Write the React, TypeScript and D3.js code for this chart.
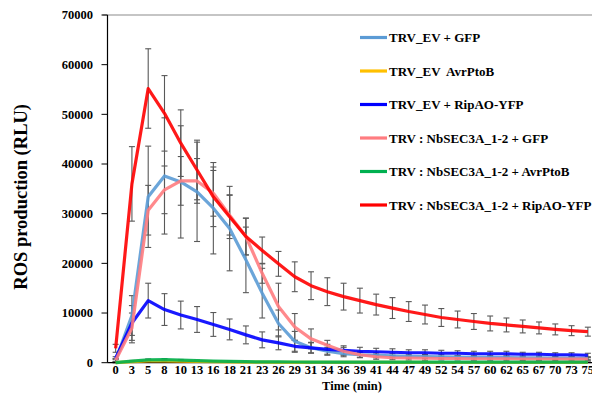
import React from "react";
import * as d3 from "d3";

// time points (min) on the category axis
const times = [0, 3, 5, 8, 10, 13, 16, 18, 21, 23, 26, 29, 31, 34, 36, 39, 41, 44, 47, 49, 52, 54, 57, 60, 62, 65, 67, 70, 73, 75];

const evGfp = [500, 9500, 33400, 37600, 36400, 34400, 31100, 27000, 20700, 14000, 7900, 4300, 3000, 2300, 1800, 1600, 1500, 1400, 1300, 1250, 1200, 1150, 1100, 1100, 1050, 1000, 1000, 950, 950, 900];
const evGfpErr = [300, 4000, 10200, 11700, 11300, 10000, 9200, 8500, 6600, 5000, 2700, 2000, 1000, 800, 600, 500, 500, 400, 400, 400, 400, 300, 300, 300, 300, 300, 300, 300, 300, 300];

const evAvr = [0, 200, 350, 350, 300, 250, 200, 150, 120, 100, 80, 80, 70, 60, 60, 50, 50, 50, 50, 50, 40, 40, 40, 40, 40, 40, 40, 40, 40, 40];
const evAvrErr = [50, 100, 150, 150, 120, 100, 100, 80, 60, 50, 40, 40, 40, 30, 30, 30, 30, 30, 30, 30, 20, 20, 20, 20, 20, 20, 20, 20, 20, 20];

const evRip = [900, 8000, 12500, 10700, 9600, 8700, 7700, 6700, 5600, 4600, 4000, 3300, 3000, 2700, 2500, 2300, 2200, 2100, 2000, 2000, 1900, 1900, 1800, 1800, 1800, 1700, 1700, 1600, 1600, 1500];
const evRipErr = [300, 3500, 3500, 3200, 2800, 2600, 2400, 2100, 1800, 1600, 1400, 1200, 1100, 1000, 900, 800, 700, 700, 600, 600, 600, 500, 500, 500, 500, 400, 400, 400, 400, 400];

const secGfp = [500, 7000, 30700, 34800, 36600, 36600, 34100, 29700, 25400, 18000, 11300, 7200, 4800, 3500, 2300, 1600, 1200, 1000, 950, 900, 850, 850, 800, 800, 800, 750, 750, 750, 700, 700];
const secGfpErr = [300, 3000, 5000, 4800, 4900, 4500, 4600, 4000, 3700, 2000, 4700, 2700, 2000, 1000, 800, 600, 500, 400, 400, 400, 300, 300, 300, 300, 300, 300, 300, 300, 300, 300];

const secAvr = [0, 300, 550, 600, 500, 400, 320, 260, 200, 160, 150, 140, 130, 120, 110, 100, 100, 100, 100, 100, 100, 100, 100, 100, 100, 100, 100, 100, 100, 100];
const secAvrErr = [50, 150, 200, 200, 150, 120, 100, 80, 60, 50, 50, 40, 40, 40, 30, 30, 30, 30, 30, 30, 30, 30, 30, 30, 30, 30, 30, 30, 30, 30];

const secRip = [2900, 36000, 55200, 50200, 44200, 38800, 33400, 29400, 25400, 22600, 19900, 17300, 15500, 14300, 13300, 12500, 11700, 11000, 10300, 9700, 9100, 8700, 8300, 7900, 7600, 7300, 7000, 6700, 6450, 6250];
const secRipErr = [800, 7500, 8000, 7600, 6700, 6000, 6000, 4400, 3700, 2700, 2500, 3000, 2800, 2800, 2700, 2500, 2100, 2100, 2000, 1900, 1800, 1700, 1600, 1500, 1400, 1300, 1200, 1100, 1000, 900];

const seriesNames = [
  "TRV_EV + GFP",
  "TRV_EV  AvrPtoB",
  "TRV_EV + RipAO-YFP",
  "TRV : NbSEC3A_1-2 + GFP",
  "TRV : NbSEC3A_1-2 + AvrPtoB",
  "TRV : NbSEC3A_1-2 + RipAO-YFP",
];
const seriesColors = ["#5b9bd5", "#ffc000", "#0000ff", "#ff7c80", "#00b050", "#ff0000"];
const seriesValues = [evGfp, evAvr, evRip, secGfp, secAvr, secRip];
const seriesErrors = [evGfpErr, evAvrErr, evRipErr, secGfpErr, secAvrErr, secRipErr];

const yTicks = [0, 10000, 20000, 30000, 40000, 50000, 60000, 70000];

const W = 592;
const H = 404;
const left = 107.5;
const top = 15;
const bottom = 362.7;
const font = "Liberation Serif, DejaVu Serif, serif";

export default function App() {
  const x = d3
    .scalePoint<number>()
    .domain(times)
    .range([left, 596])
    .padding(0.5);
  const y = d3.scaleLinear().domain([0, 70000]).range([bottom, top]);

  const line = d3
    .line<number>()
    .x((_, i) => x(times[i]) as number)
    .y((d) => y(d));

  return (
    <svg
      width={W}
      height={H}
      style={{ position: "absolute", left: 0, top: 0, background: "#fff", fontFamily: font, fontWeight: 700 }}
    >
      {/* top border */}
      <line x1={left - 5} x2={W} y1={top} y2={top} stroke="#8c8c8c" strokeWidth={1.2} />

      {/* y axis */}
      <line x1={left} x2={left} y1={top} y2={bottom} stroke="#000" strokeWidth={1.2} />
      {yTicks.map((t) => (
        <g key={t}>
          <line x1={left - 6} x2={left} y1={y(t)} y2={y(t)} stroke="#000" strokeWidth={1} />
          <text x={93} y={y(t)} dy="0.35em" textAnchor="end" fontSize={12.5}>
            {t}
          </text>
        </g>
      ))}
      <text
        transform={`translate(21,${(top + bottom) / 2 + 8}) rotate(-90)`}
        textAnchor="middle"
        dy="0.35em"
        fontSize={18.5}
      >
        ROS production (RLU)
      </text>

      {/* x axis labels */}
      {times.map((t) => (
        <text key={t} x={x(t)} y={374} textAnchor="middle" fontSize={12.5}>
          {t}
        </text>
      ))}
      <text x={352} y={390} textAnchor="middle" fontSize={12.5}>
        Time (min)
      </text>

      {/* error bars */}
      {seriesValues.map((vals, s) => (
        <g key={"err" + s} stroke="#595959" strokeWidth={1.1}>
          {vals.map((v, i) => {
            const cx = x(times[i]) as number;
            const e = seriesErrors[s][i];
            const y1 = y(v + e);
            const y2 = y(Math.max(0, v - e));
            return (
              <g key={i}>
                <line x1={cx} x2={cx} y1={y1} y2={y2} />
                <line x1={cx - 3} x2={cx + 3} y1={y1} y2={y1} />
                <line x1={cx - 3} x2={cx + 3} y1={y2} y2={y2} />
              </g>
            );
          })}
        </g>
      ))}

      {/* x axis line */}
      <line x1={left} x2={W} y1={bottom} y2={bottom} stroke="#000" strokeWidth={1.2} />

      {/* series lines */}
      {seriesValues.map((vals, s) => (
        <path
          key={"line" + s}
          d={line(vals) || ""}
          fill="none"
          stroke={seriesColors[s]}
          strokeWidth={3.2}
          strokeLinejoin="round"
          strokeOpacity={0.9}
        />
      ))}

      {/* legend */}
      {seriesNames.map((name, s) => {
        const ly = 37.5 + s * 33.5;
        return (
          <g key={"leg" + s}>
            <line x1={360} x2={387} y1={ly} y2={ly} stroke={seriesColors[s]} strokeWidth={3.2} />
            <text x={389} y={ly} dy="0.35em" fontSize={13} style={{ whiteSpace: "pre" }}>
              {name}
            </text>
          </g>
        );
      })}
    </svg>
  );
}
